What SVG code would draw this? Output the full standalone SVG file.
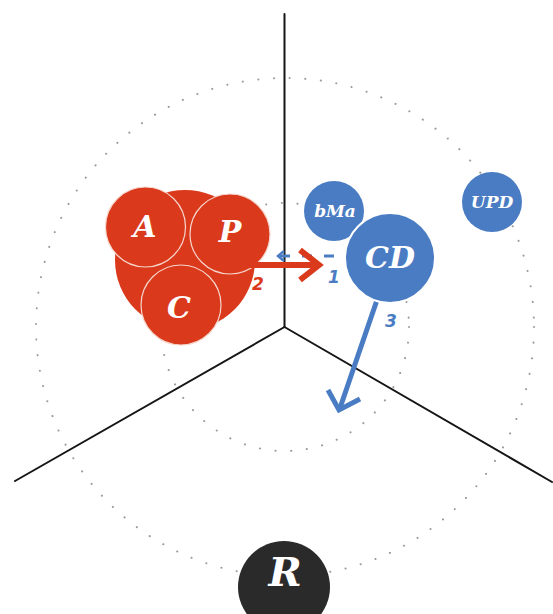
<svg xmlns="http://www.w3.org/2000/svg" width="553" height="614" viewBox="0 0 553 614">
<style>
.dots{fill:none;stroke:#9a9a9a;stroke-width:2;stroke-linecap:round;stroke-dasharray:0.1 15.6}
.axis{stroke:#151515;stroke-width:2;fill:none;stroke-linecap:round}
.red{fill:#DA3A1B}
.redc{fill:#DA3A1B;stroke:#F6D5CC;stroke-width:1.2}
.blue{fill:#4A7CC3}
.bluec{fill:#4A7CC3;stroke:#ffffff;stroke-width:2}
.lbl{font-family:"DejaVu Serif","Liberation Serif",serif;font-style:italic;font-weight:bold;fill:#fff;text-anchor:middle}
.num{font-family:"DejaVu Sans","Liberation Sans",sans-serif;font-style:italic;font-weight:bold;text-anchor:middle;font-size:17px}
</style>
<rect width="553" height="614" fill="#ffffff"/>
<g id="background">
<circle class="dots" cx="285" cy="327" r="249"/>
<circle class="dots" cx="285" cy="327" r="124"/>
<line class="axis" x1="284.5" y1="14" x2="284.5" y2="327"/>
<line class="axis" x1="284.5" y1="327" x2="15" y2="481"/>
<line class="axis" x1="284.5" y1="327" x2="552" y2="482"/>
</g>
<g id="node-group-red">
<circle class="red" cx="185" cy="260" r="70"/>
</g>
<g id="node-A">
<circle class="redc" cx="145.5" cy="227" r="40"/>
<text class="lbl" x="145" y="237" font-size="30">A</text>
</g>
<g id="node-P">
<circle class="redc" cx="230" cy="234" r="40"/>
<text class="lbl" x="230" y="242" font-size="30">P</text>
</g>
<g id="node-C">
<circle class="redc" cx="181" cy="305" r="40"/>
<text class="lbl" x="179" y="318" font-size="30">C</text>
</g>
<g id="connectors">
<line x1="334" y1="256" x2="280" y2="256" stroke="#4A7CC3" stroke-width="3" stroke-dasharray="10 12"/>
<polyline points="284,251 278,256 284,261" fill="none" stroke="#4A7CC3" stroke-width="2.5"/>
<line x1="246" y1="265" x2="318" y2="265" stroke="#DA3A1B" stroke-width="6"/>
<polyline points="300,250 319,265 300,280" fill="none" stroke="#DA3A1B" stroke-width="6"/>
<line x1="377" y1="300" x2="340" y2="408" stroke="#4A7CC3" stroke-width="5"/>
<polyline points="328,390 339,410 360,399" fill="none" stroke="#4A7CC3" stroke-width="5"/>
<text class="num" x="258" y="290" fill="#DA3A1B">2</text>
<text class="num" x="334" y="283" fill="#4A7CC3">1</text>
<text class="num" x="391" y="327" fill="#4A7CC3">3</text>
</g>
<g id="node-bMa">
<circle class="blue" cx="334" cy="211" r="30"/>
<text class="lbl" x="335" y="217" font-size="17">bMa</text>
</g>
<g id="node-CD">
<circle class="bluec" cx="390" cy="258" r="45"/>
<text class="lbl" x="390" y="268" font-size="30">CD</text>
</g>
<g id="node-UPD">
<circle class="blue" cx="492" cy="202" r="30"/>
<text class="lbl" x="492" y="208" font-size="17">UPD</text>
</g>
<g id="node-R">
<circle fill="#2A2A2A" cx="284" cy="587" r="46"/>
<text class="lbl" x="285" y="586" font-size="40">R</text>
</g>
</svg>
